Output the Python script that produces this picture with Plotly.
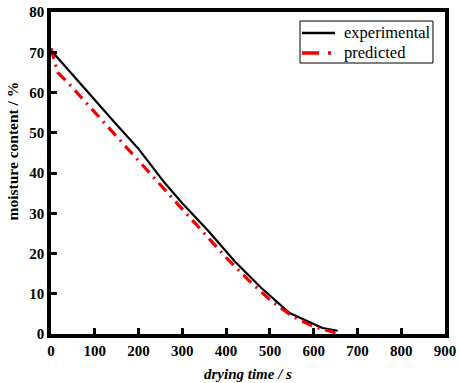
import plotly.graph_objects as go

exp_time = [0, 40, 100, 150, 200, 260, 300, 360, 420, 480, 545, 620, 655]
exp_moist = [70.5, 65.5, 58, 52, 46, 37.5, 32.5, 25.5, 18, 11.5, 5.2, 1.5, 0.8]

pred_time = [0, 15, 40, 100, 150, 200, 250, 300, 350, 400, 450, 500, 550, 600, 650]
pred_moist = [71, 65, 62.3, 55.1, 49, 43, 37, 31, 25, 19, 13.5, 8.5, 4.5, 1.8, 0.3]

x_ticks = [0, 100, 200, 300, 400, 500, 600, 700, 800, 900]
y_ticks = [0, 10, 20, 30, 40, 50, 60, 70, 80]

series_names = ["experimental", "predicted"]
series_colors = ["black", "#ee0000"]

serif = "Liberation Serif, Times New Roman, serif"
RED_DASH = "11px,6px,2px,6px"

fig = go.Figure()
fig.add_trace(go.Scatter(x=exp_time, y=exp_moist, mode="lines", name=series_names[0],
                         line=dict(color=series_colors[0], width=2.2)))
fig.add_trace(go.Scatter(x=pred_time, y=pred_moist, mode="lines", name=series_names[1],
                         line=dict(color=series_colors[1], width=3.2, dash=RED_DASH)))

# legend drawn as a boxed key (paper coordinates)
leg_shapes = [
    dict(type="rect", xref="paper", yref="paper", x0=0.632, x1=0.9695, y0=0.8416, y1=0.972,
         line=dict(color="black", width=1), fillcolor="white", layer="above"),
    dict(type="line", xref="paper", yref="paper", x0=0.637, x1=0.7208, y0=0.9348, y1=0.9348,
         line=dict(color=series_colors[0], width=2.6), layer="above"),
    dict(type="line", xref="paper", yref="paper", x0=0.637, x1=0.7107, y0=0.8727, y1=0.8727,
         line=dict(color=series_colors[1], width=3.4, dash="17px,9px,3px,20px"), layer="above"),
]
leg_ann = [
    dict(text=series_names[0], xref="paper", yref="paper", x=0.7386, y=0.9348,
         xanchor="left", yanchor="middle", showarrow=False,
         font=dict(family=serif, size=16.5, color="black")),
    dict(text=series_names[1], xref="paper", yref="paper", x=0.7386, y=0.8727,
         xanchor="left", yanchor="middle", showarrow=False,
         font=dict(family=serif, size=16.5, color="black")),
]

fig.update_layout(
    width=460, height=383,
    margin=dict(l=51, r=15, t=12, b=49),
    paper_bgcolor="white", plot_bgcolor="white",
    font=dict(family=serif, color="black"),
    showlegend=False,
    xaxis=dict(range=[0, 900], tickvals=x_ticks, ticktext=[str(v) for v in x_ticks],
               automargin=False,
               showgrid=False, zeroline=False, showline=True, linecolor="black",
               linewidth=3.5, mirror=True, ticks="inside", ticklen=6, tickwidth=3,
               tickcolor="black",
               tickfont=dict(family=serif, size=15, color="black", weight="bold"),
               title=dict(text="<b><i>drying time / s</i></b>", standoff=12,
                          font=dict(family=serif, size=15, color="black"))),
    yaxis=dict(range=[0, 80], tickvals=y_ticks, ticktext=[str(v) for v in y_ticks],
               automargin=False,
               showgrid=False, zeroline=False, showline=True, linecolor="black",
               linewidth=3.5, mirror=True, ticks="inside", ticklen=6, tickwidth=3,
               tickcolor="black",
               tickfont=dict(family=serif, size=15, color="black", weight="bold")),
    shapes=leg_shapes,
    annotations=[dict(text="<b>moisture content / %</b>", textangle=-90,
                      xref="paper", yref="paper", x=-0.098, y=0.568,
                      xanchor="center", yanchor="middle", showarrow=False,
                      font=dict(family=serif, size=15.5, color="black"))] + leg_ann,
)

fig.write_html("out.html", config={"displayModeBar": False},
               post_script="document.body.style.margin='0';")
